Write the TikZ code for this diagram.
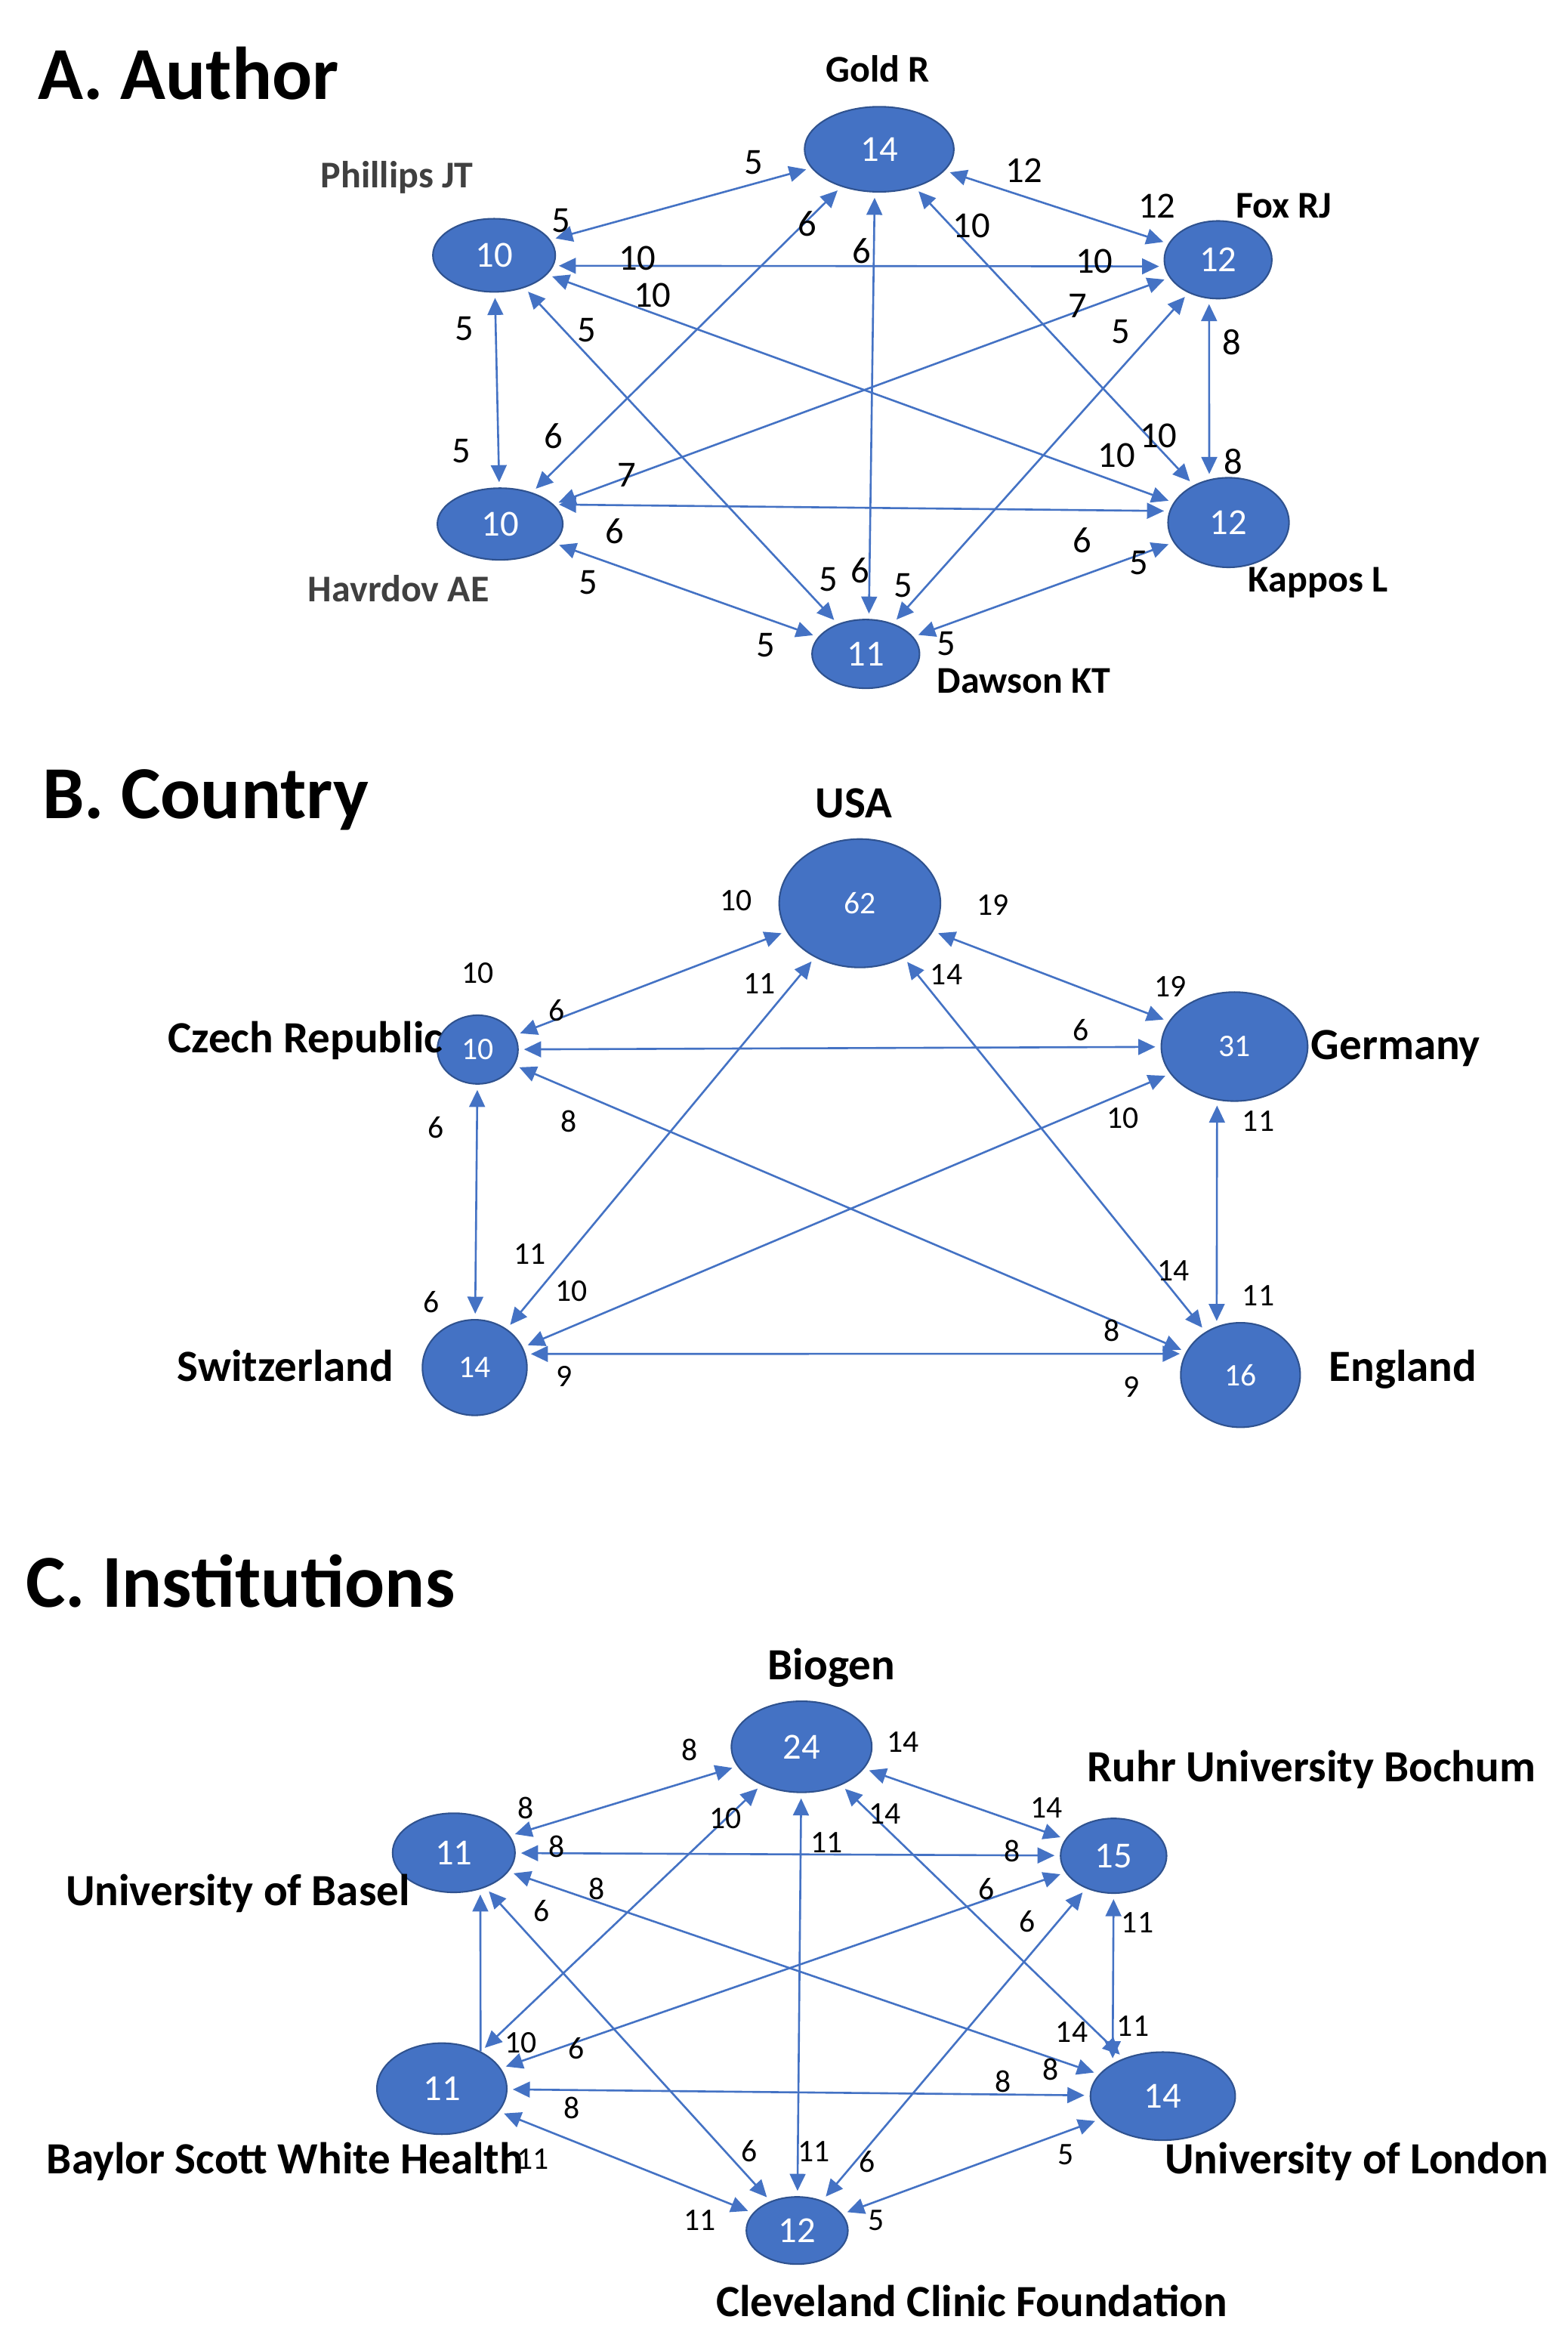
\documentclass[tikz,border=0pt]{standalone}
\usepackage{fontspec}
\setmainfont{Carlito}
\usetikzlibrary{shapes.geometric,arrows.meta}
\definecolor{obl}{HTML}{4472C4}
\definecolor{obd}{HTML}{2F528F}
\definecolor{dgr}{HTML}{404040}
\newcommand{\elbl}[5]{\node[#1] (#2) at (#3,#4) {#5};}
\begin{document}
\begin{tikzpicture}[x=0.02cm,y=-0.02cm,
  nd/.style 2 args={ellipse,fill=obl,draw=obd,line width=0.6pt,inner sep=0pt,minimum width=#1*0.02cm,minimum height=#2*0.02cm,text=white},
  ed/.style={draw=obl,line width=0.75pt,{Triangle[length=6.5pt,width=6pt]}-{Triangle[length=6.5pt,width=6pt]},shorten <=2pt,shorten >=2pt},
  eds/.style={draw=obl,line width=0.75pt,-{Triangle[length=6.5pt,width=6pt]},shorten >=2pt},
  ttl/.style={font=\fontsize{28.5}{30}\selectfont\bfseries,inner sep=0pt},
  lA/.style={font=\fontsize{14.4}{16}\selectfont\bfseries,inner sep=0pt},
  lB/.style={font=\fontsize{17}{19}\selectfont\bfseries,inner sep=0pt},
  eA/.style={font=\fontsize{14}{15}\selectfont,inner sep=0pt},
  eB/.style={font=\fontsize{12}{13}\selectfont,inner sep=0pt},
  nA/.style={font=\fontsize{14}{15}\selectfont},
  nB/.style={font=\fontsize{12}{13}\selectfont}
]
\useasboundingbox (0,0) rectangle (1050,1564);
\fill[white] (0,0) rectangle (1050,1564);

% ---------------- A. Author ----------------
\node[ttl,anchor=west] (tA) at (25,49) {A. Author};
\node[nd={100}{57},nA] (G) at (589,100) {14};
\node[nd={82}{49},nA] (P) at (331,171) {10};
\node[nd={72}{52},nA] (F) at (816,174) {12};
\node[nd={84}{48},nA] (H) at (335,351) {10};
\node[nd={81}{60},nA] (K) at (823,350) {12};
\node[nd={72}{46},nA] (D) at (580,438) {11};

\draw[ed] (P) -- (G);
\draw[ed] (G) -- (F);
\draw[ed] (P.-10.1) -- (F.-173.6);
\draw[ed] (P) -- (K);
\draw[ed] (P) -- (D);
\draw[ed] (P) -- (H);
\draw[ed] (G) -- (H);
\draw[ed] (G.-96) -- (D.85);
\draw[ed] (G) -- (K);
\draw[ed] (F) -- (H);
\draw[ed] (F) -- (D);
\draw[ed] (F.-103.2) -- (K.114.6);
\draw[ed] (H.20.2) -- (K.169.9);
\draw[ed] (H) -- (D);
\draw[ed] (K) -- (D);

\node[lA] (lG) at (588,46) {Gold R};
\node[lA,text=dgr] (lP) at (266,119) {Phillips JT};
\node[lA] (lF) at (860,138) {Fox RJ};
\node[lA,text=dgr] (lH) at (267,394) {Havrdov AE};
\node[lA] (lK) at (883,390) {Kappos L};
\node[lA] (lD) at (686,456) {Dawson KT};

\elbl{eA}{a1}{376}{148}{5}
\elbl{eA}{a2}{505}{109}{5}
\elbl{eA}{a3}{686}{114}{12}
\elbl{eA}{a4}{775}{138}{12}
\elbl{eA}{a5}{427}{173}{10}
\elbl{eA}{a6}{733}{175}{10}
\elbl{eA}{a7}{437}{198}{10}
\elbl{eA}{a8}{748}{305}{10}
\elbl{eA}{a9}{393}{221}{5}
\elbl{eA}{a10}{555}{388}{5}
\elbl{eA}{a11}{311}{220}{5}
\elbl{eA}{a12}{309}{302}{5}
\elbl{eA}{a13}{541}{150}{6}
\elbl{eA}{a14}{371}{292}{6}
\elbl{eA}{a15}{577}{168}{6}
\elbl{eA}{a16}{576}{382}{6}
\elbl{eA}{a17}{651}{151}{10}
\elbl{eA}{a18}{776}{292}{10}
\elbl{eA}{a19}{722}{205}{7}
\elbl{eA}{a20}{420}{318}{7}
\elbl{eA}{a21}{751}{222}{5}
\elbl{eA}{a22}{605}{392}{5}
\elbl{eA}{a23}{825}{229}{8}
\elbl{eA}{a24}{826}{309}{8}
\elbl{eA}{a25}{412}{356}{6}
\elbl{eA}{a26}{725}{362}{6}
\elbl{eA}{a27}{763}{377}{5}
\elbl{eA}{a28}{634}{431}{5}
\elbl{eA}{a29}{394}{390}{5}
\elbl{eA}{a30}{513}{432}{5}

% ---------------- B. Country ----------------
\node[ttl,anchor=west] (tB) at (28,536) {B. Country};
\node[nd={108}{86},nB] (US) at (576,605) {62};
\node[nd={54}{46},nB] (CZ) at (320,703) {10};
\node[nd={98}{73},nB] (DE) at (827,701) {31};
\node[nd={70}{64},nB] (CH) at (318,916) {14};
\node[nd={80}{70},nB] (EN) at (831,921) {16};

\draw[ed] (CZ) -- (US);
\draw[ed] (US) -- (DE);
\draw[ed] (US) -- (CH);
\draw[ed] (US) -- (EN);
\draw[ed] (CZ) -- (DE);
\draw[ed] (CZ) -- (EN);
\draw[ed] (CZ) -- (CH);
\draw[ed] (DE) -- (CH);
\draw[ed] (DE.-108.7) -- (EN.116.5);
\draw[ed] (CH.15) -- (EN.159.1);

\node[lB] (lUS) at (572,538) {USA};
\node[lB,anchor=east] (lCZ) at (297,697) {Czech Republic};
\node[lB,anchor=west] (lDE) at (878,702) {Germany};
\node[lB,anchor=east] (lCH) at (264,915) {Switzerland};
\node[lB,anchor=west] (lEN) at (890,917) {England};

\elbl{eB}{b1}{493}{603}{10}
\elbl{eB}{b2}{320}{652}{10}
\elbl{eB}{b3}{665}{606}{19}
\elbl{eB}{b4}{784}{661}{19}
\elbl{eB}{b5}{509}{659}{11}
\elbl{eB}{b6}{355}{840}{11}
\elbl{eB}{b7}{634}{653}{14}
\elbl{eB}{b8}{786}{851}{14}
\elbl{eB}{b9}{373}{677}{6}
\elbl{eB}{b10}{724}{690}{6}
\elbl{eB}{b11}{381}{751}{8}
\elbl{eB}{b12}{745}{891}{8}
\elbl{eB}{b13}{292}{755}{6}
\elbl{eB}{b14}{289}{872}{6}
\elbl{eB}{b15}{752}{749}{10}
\elbl{eB}{b16}{383}{865}{10}
\elbl{eB}{b17}{843}{751}{11}
\elbl{eB}{b18}{843}{868}{11}
\elbl{eB}{b19}{378}{922}{9}
\elbl{eB}{b20}{758}{929}{9}

% ---------------- C. Institutions ----------------
\node[ttl,anchor=west] (tC) at (17,1059) {C. Institutions};
\node[nd={94}{61},nA] (BI) at (537,1170) {24};
\node[nd={71}{50},nA] (RU) at (746,1243) {15};
\node[nd={82}{53},nA] (BA) at (304,1241) {11};
\node[nd={87}{61},nA] (BS) at (296,1399) {11};
\node[nd={97}{59},nA] (LO) at (779,1404) {14};
\node[nd={68}{45},nA] (CL) at (534,1494) {12};

\draw[ed] (BA) -- (BI);
\draw[ed] (BI) -- (RU);
\draw[ed] (BA) -- (RU);
\draw[ed] (BA) -- (LO);
\draw[ed] (BA) -- (CL);
\draw[eds] (BS.44) -- (BA.-54);
\draw[ed] (BI) -- (BS);
\draw[ed] (BI) -- (CL);
\draw[ed] (BI) -- (LO);
\draw[ed] (RU) -- (BS);
\draw[ed] (RU) -- (CL);
\draw[ed] (RU.south) -- (LO.147.5);
\draw[ed] (BS) -- (LO);
\draw[ed] (BS) -- (CL);
\draw[ed] (LO) -- (CL);

\node[lB] (lBI) at (557,1117) {Biogen};
\node[lB,anchor=west] (lRU) at (728,1185) {Ruhr University Bochum};
\node[lB,anchor=east] (lBA) at (275,1268) {University of Basel};
\node[lB,anchor=west] (lBS) at (31,1448) {Baylor Scott White Health};
\node[lB,anchor=west] (lLO) at (780,1448) {University of London};
\node[lB] (lCL) at (651,1541) {Cleveland Clinic Foundation};

\elbl{eB}{c1}{352}{1211}{8}
\elbl{eB}{c2}{462}{1172}{8}
\elbl{eB}{c3}{605}{1167}{14}
\elbl{eB}{c4}{701}{1211}{14}
\elbl{eB}{c5}{373}{1237}{8}
\elbl{eB}{c6}{678}{1240}{8}
\elbl{eB}{c7}{400}{1265}{8}
\elbl{eB}{c8}{704}{1386}{8}
\elbl{eB}{c9}{363}{1280}{6}
\elbl{eB}{c10}{502}{1441}{6}
\elbl{eB}{c11}{486}{1218}{10}
\elbl{eB}{c12}{349}{1368}{10}
\elbl{eB}{c13}{554}{1234}{11}
\elbl{eB}{c14}{545}{1441}{11}
\elbl{eB}{c15}{593}{1215}{14}
\elbl{eB}{c16}{718}{1361}{14}
\elbl{eB}{c17}{661}{1265}{6}
\elbl{eB}{c18}{386}{1372}{6}
\elbl{eB}{c19}{688}{1287}{6}
\elbl{eB}{c20}{581}{1448}{6}
\elbl{eB}{c21}{762}{1288}{11}
\elbl{eB}{c22}{759}{1357}{11}
\elbl{eB}{c23}{383}{1412}{8}
\elbl{eB}{c24}{672}{1394}{8}
\elbl{eB}{c25}{357}{1446}{11}
\elbl{eB}{c26}{469}{1487}{11}
\elbl{eB}{c27}{714}{1443}{5}
\elbl{eB}{c28}{587}{1487}{5}
\end{tikzpicture}
\end{document}
